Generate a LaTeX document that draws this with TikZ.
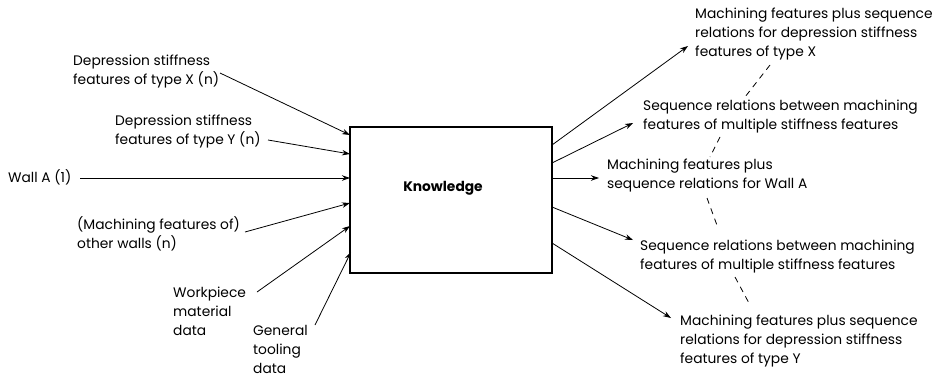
\documentclass[tikz,border=0pt]{standalone}
\usepackage{fontspec}
\setmainfont{Poppins}
\usetikzlibrary{arrows.meta}
\begin{document}
\begin{tikzpicture}[x=1pt,y=-1pt,
  lbl/.style={anchor=west,align=left,inner sep=0pt,font=\fontsize{13.8}{19}\selectfont},
  arr/.style={line width=0.8pt,-{Stealth[length=8pt,width=5.5pt]}},
  dsh/.style={line width=0.8pt,dash pattern=on 6pt off 5pt},
  boxst/.style={draw,line width=1.1pt,minimum width=202pt,minimum height=146pt,inner sep=0pt}]
\useasboundingbox (0,0) rectangle (942,378);
\node[boxst] (K) at (451,200) {};
\node[inner sep=0pt,font=\fontsize{13.8}{16}\selectfont\bfseries] (kt) at (443,188) {Knowledge};
% left labels
\node[lbl] (lx) at (73,72) {Depression stiffness\\features of type X (n)};
\node[lbl] (ly) at (115,132) {Depression stiffness\\features of type Y (n)};
\node[lbl] (lw) at (8,177) {Wall A (1)};
\node[lbl] (lo) at (77,234) {(Machining features of)\\other walls (n)};
\node[lbl] (lwp) at (173,311) {Workpiece\\material\\data};
\node[lbl] (lg) at (253,349) {General\\tooling\\data};
% right labels
\node[lbl] (r1) at (695,34) {Machining features plus sequence\\relations for depression stiffness\\features of type X};
\node[lbl] (r2) at (643,117) {Sequence relations between machining\\features of multiple stiffness features};
\node[lbl] (r3) at (607,176) {Machining features plus\\sequence relations for Wall A};
\node[lbl] (r4) at (640,257) {Sequence relations between machining\\features of multiple stiffness features};
\node[lbl] (r5) at (680,341) {Machining features plus sequence\\relations for depression stiffness\\features of type Y};
% coordinates
\coordinate (sx) at (220,73);  \coordinate (ex) at (350,135);
\coordinate (sy) at (268,140); \coordinate (ey) at (350,154);
\coordinate (sw) at (80,178);  \coordinate (ew) at (350,178);
\coordinate (so) at (245,232); \coordinate (eo) at (350,203);
\coordinate (sp) at (257,292); \coordinate (ep) at (350,226);
\coordinate (sg) at (315,325); \coordinate (eg) at (351,252);
\coordinate (o1) at (552,145); \coordinate (t1) at (688,46);
\coordinate (o2) at (552,163); \coordinate (t2) at (633,123);
\coordinate (o3) at (552,178); \coordinate (t3) at (599,178);
\coordinate (o4) at (552,207); \coordinate (t4) at (633,240);
\coordinate (o5) at (552,243); \coordinate (t5) at (671,318);
\coordinate (d1a) at (770,65);  \coordinate (d1b) at (745,97);
\coordinate (d2a) at (720,137); \coordinate (d2b) at (710,157);
\coordinate (d3a) at (707,198); \coordinate (d3b) at (718,228);
\coordinate (d4a) at (735,277); \coordinate (d4b) at (750,305);
\foreach \s/\e in {sx/ex,sy/ey,sw/ew,so/eo,sp/ep,sg/eg,o1/t1,o2/t2,o3/t3,o4/t4,o5/t5}
  \draw[arr] (\s) -- (\e);
\foreach \s/\e in {d1a/d1b,d2a/d2b,d3a/d3b,d4a/d4b}
  \draw[dsh] (\s) -- (\e);
\end{tikzpicture}
\end{document}
